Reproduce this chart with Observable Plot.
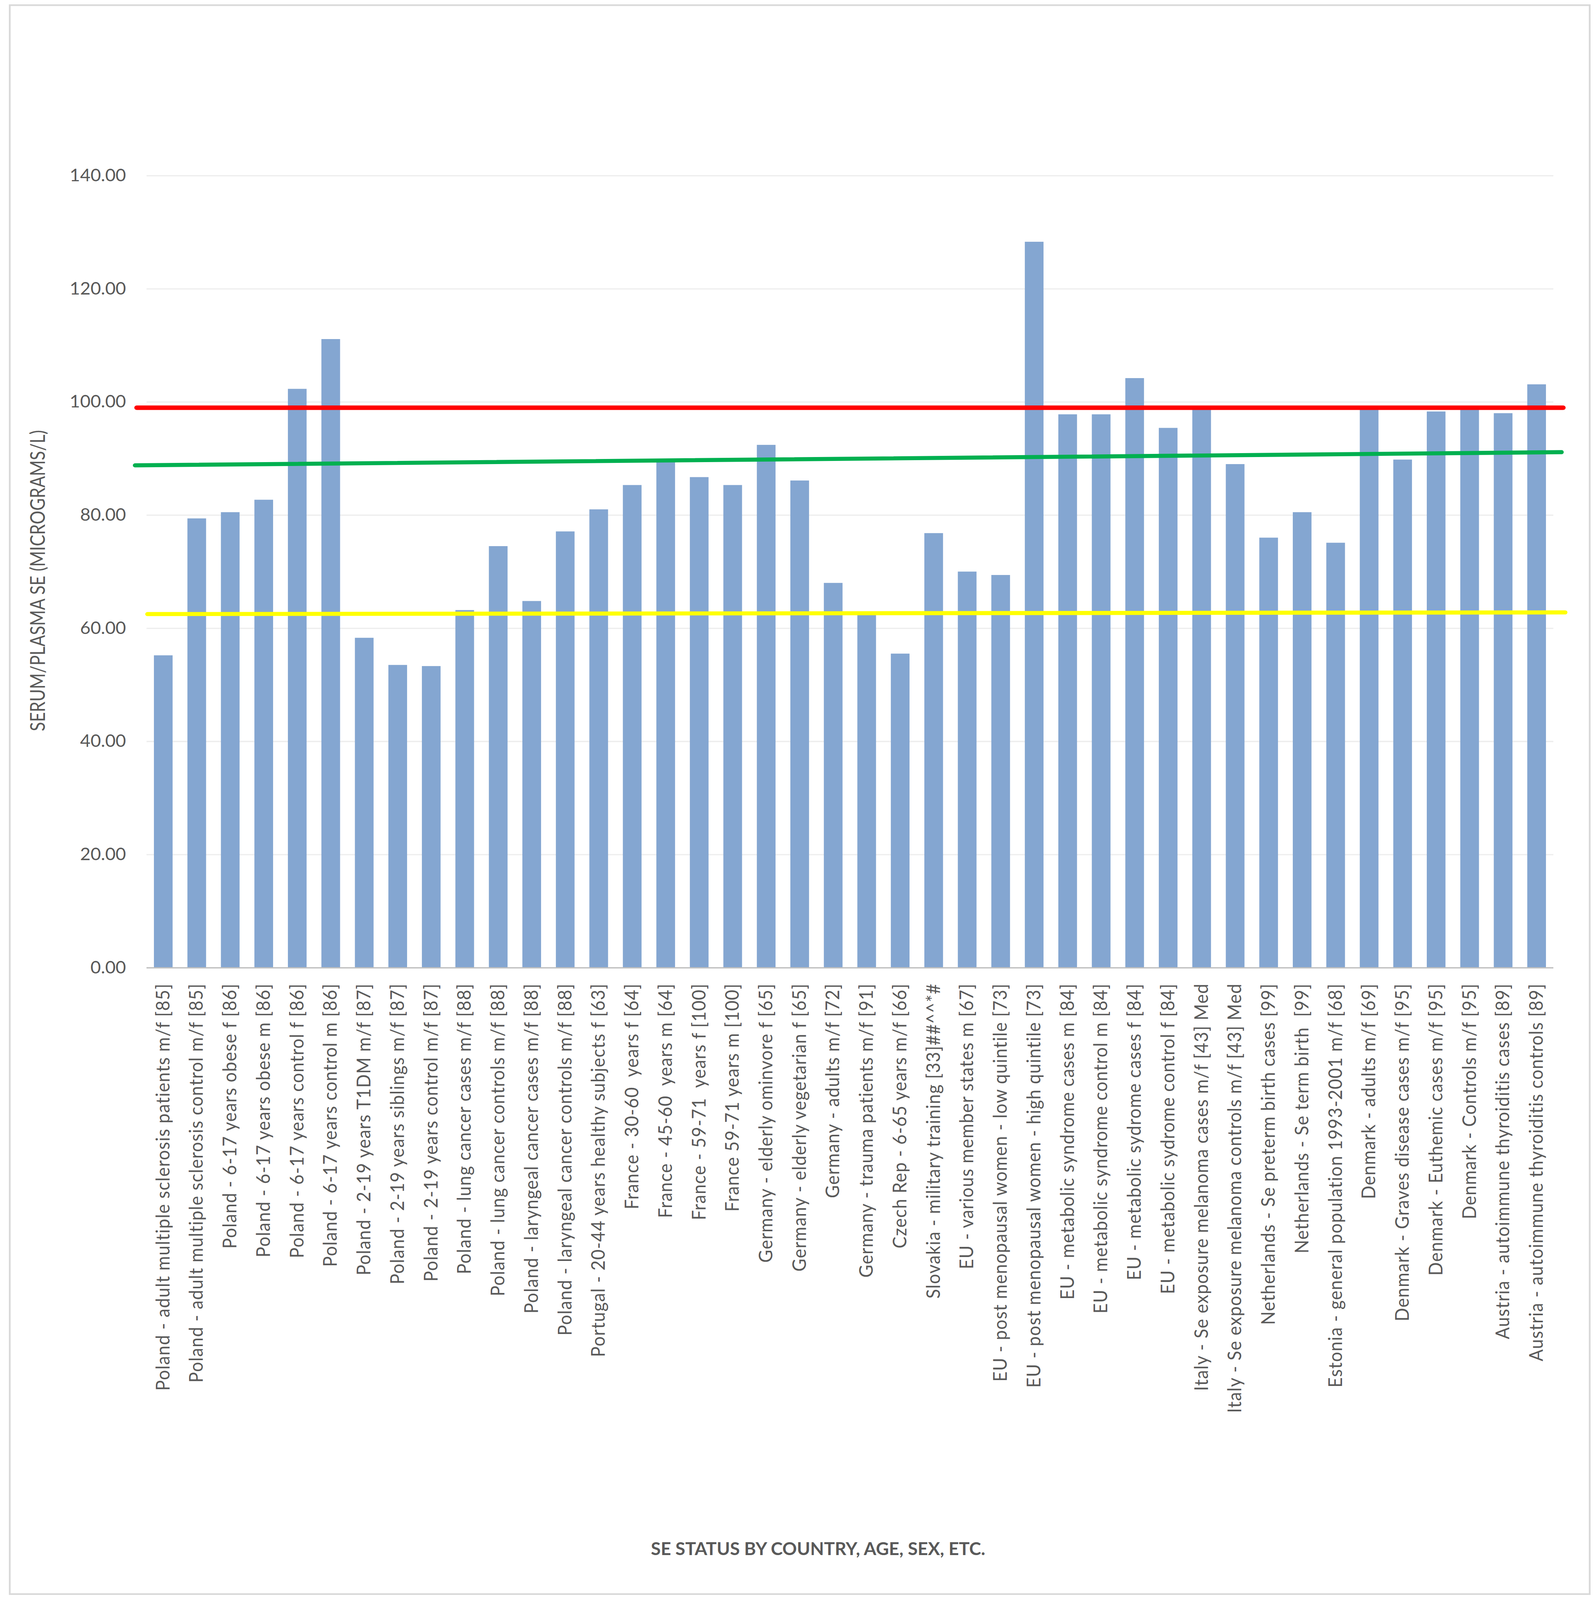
<!DOCTYPE html>
<html>
<head>
<meta charset="utf-8">
<script src="https://cdn.jsdelivr.net/npm/d3@7"></script>
<script src="https://cdn.jsdelivr.net/npm/@observablehq/plot@0.6"></script>
<style>
html, body { margin: 0; padding: 0; background: #ffffff; overflow: hidden; }
#chart { position: relative; width: 4080px; }
</style>
</head>
<body>
<div id="chart"></div>
<script>
const categories = [
  "Poland - adult multiple sclerosis patients m/f [85]",
  "Poland - adult multiple sclerosis control m/f [85]",
  "Poland - 6-17 years obese f [86]",
  "Poland - 6-17 years obese m [86]",
  "Poland - 6-17 years control f [86]",
  "Poland - 6-17 years control m [86]",
  "Poland - 2-19 years T1DM m/f [87]",
  "Poland - 2-19 years siblings m/f [87]",
  "Poland - 2-19 years control m/f [87]",
  "Poland - lung cancer cases m/f [88]",
  "Poland - lung cancer controls m/f [88]",
  "Poland - laryngeal cancer cases m/f [88]",
  "Poland - laryngeal cancer controls m/f [88]",
  "Portugal - 20-44 years healthy subjects f [63]",
  "France - 30-60  years f [64]",
  "France - 45-60  years m [64]",
  "France - 59-71  years f [100]",
  "France 59-71 years m [100]",
  "Germany - elderly ominvore f [65]",
  "Germany - elderly vegetarian f [65]",
  "Germany - adults m/f [72]",
  "Germany - trauma patients m/f [91]",
  "Czech Rep - 6-65 years m/f [66]",
  "Slovakia - military training [33]##^^*#",
  "EU - various member states m [67]",
  "EU - post menopausal women - low quintile [73]",
  "EU - post menopausal women - high quintile [73]",
  "EU - metabolic syndrome cases m [84]",
  "EU - metabolic syndrome control m [84]",
  "EU - metabolic sydrome cases f [84]",
  "EU - metabolic sydrome control f [84]",
  "Italy - Se exposure melanoma cases m/f [43] Med",
  "Italy - Se exposure melanoma controls m/f [43] Med",
  "Netherlands - Se preterm birth cases [99]",
  "Netherlands - Se term birth  [99]",
  "Estonia - general population 1993-2001 m/f [68]",
  "Denmark - adults m/f [69]",
  "Denmark - Graves disease cases m/f [95]",
  "Denmark - Euthemic cases m/f [95]",
  "Denmark - Controls m/f [95]",
  "Austria - autoimmune thyroiditis cases [89]",
  "Austria - autoimmune thyroiditis controls [89]"
];

const values = [
  55.2, 79.4, 80.5, 82.7, 102.3, 111.1, 58.3, 53.5, 53.3, 63.2,
  74.5, 64.8, 77.1, 81.0, 85.3, 89.4, 86.7, 85.3, 92.4, 86.1,
  68.0, 62.5, 55.5, 76.8, 70.0, 69.4, 128.3, 97.8, 97.8, 104.2,
  95.4, 98.9, 89.0, 76.0, 80.5, 75.1, 99.0, 89.8, 98.3, 99.2,
  98.0, 103.1
];

const yTicks = [0, 20, 40, 60, 80, 100, 120, 140];

// Reference lines (x in category-index units, y in micrograms/L)
const redLineX = [-0.8, 41.79];
const redLineY = [99.0, 99.0];
const greenLineX = [-0.85, 41.74];
const greenLineY = [88.81, 91.14];
const yellowLineX = [-0.48, 41.85];
const yellowLineY = [62.52, 62.82];

const xTitle = "SE STATUS BY COUNTRY, AGE, SEX, ETC.";
const yTitle = "SERUM/PLASMA SE (MICROGRAMS/L)";

const bars = categories.map((c, i) => ({i, c, v: values[i]}));
const toPts = (xs, ys) => xs.map((x, k) => ({x, y: ys[k]}));

const W = 4080, H = 4329;
const halfBar = 0.279;

const plot = Plot.plot({
  width: W,
  height: H,
  marginLeft: 375,
  marginRight: 104,
  marginTop: 475,
  marginBottom: H - 2618,
  style: {fontFamily: "Lato, 'Open Sans', sans-serif", fontSize: "46px", color: "#595959", overflow: "visible"},
  x: {type: "linear", domain: [-0.5, categories.length - 0.5], axis: null},
  y: {domain: [0, 140], axis: null},
  marks: [
    Plot.gridY(yTicks, {stroke: "#eeeeee", strokeOpacity: 1, strokeWidth: 3.5}),
    Plot.rectY(bars, {x1: d => d.i - halfBar, x2: d => d.i + halfBar, y: "v", fill: "#84a6d1"}),
    Plot.ruleY([0], {stroke: "#bfbfbf", strokeWidth: 3.5}),
    Plot.line(toPts(redLineX, redLineY), {x: "x", y: "y", stroke: "#ff0000", strokeWidth: 12}),
    Plot.line(toPts(greenLineX, greenLineY), {x: "x", y: "y", stroke: "#00b050", strokeWidth: 11}),
    Plot.line(toPts(yellowLineX, yellowLineY), {x: "x", y: "y", stroke: "#ffff00", strokeWidth: 11}),
    Plot.axisY(yTicks, {tickSize: 0, tickPadding: 53, tickFormat: d3.format(".2f"), label: null}),
    Plot.axisX(d3.range(categories.length), {
      tickSize: 0, tickPadding: 42, tickRotate: -90,
      tickFormat: i => categories[i], label: null,
      fontSize: 48
    })
  ]
});

document.getElementById("chart").appendChild(plot);

const svg = d3.select(plot);
svg.selectAll("g[aria-label='x-axis tick label'] text").attr("letter-spacing", "1.4px");

svg.insert("rect", ":first-child")
  .attr("x", 25).attr("y", 14).attr("width", 4044).attr("height", 4299)
  .attr("fill", "none").attr("stroke", "#d9d9d9").attr("stroke-width", 4.5);

svg.append("text")
  .attr("x", 2094).attr("y", 4207)
  .attr("text-anchor", "middle")
  .attr("font-family", "Lato, sans-serif")
  .attr("font-weight", "bold")
  .attr("font-size", 48)
  .attr("fill", "#595959")
  .attr("textLength", 856)
  .attr("lengthAdjust", "spacingAndGlyphs")
  .text(xTitle);

svg.append("text")
  .attr("transform", "translate(115,1571) rotate(-90)")
  .attr("text-anchor", "middle")
  .attr("font-family", "Lato, sans-serif")
  .attr("font-size", 52)
  .attr("fill", "#595959")
  .attr("textLength", 815)
  .attr("lengthAdjust", "spacingAndGlyphs")
  .text(yTitle);

// Fit the full 4080x4329 chart into the visible viewport so nothing is cut off.
const vh = (window.innerHeight && window.innerHeight < H) ? window.innerHeight : H;
plot.setAttribute("viewBox", `0 0 ${W} ${H}`);
plot.setAttribute("preserveAspectRatio", "none");
plot.style.setProperty("width", W + "px", "important");
plot.style.setProperty("max-width", "none", "important");
plot.style.setProperty("height", vh + "px", "important");
document.getElementById("chart").style.height = vh + "px";
</script>
</body>
</html>
